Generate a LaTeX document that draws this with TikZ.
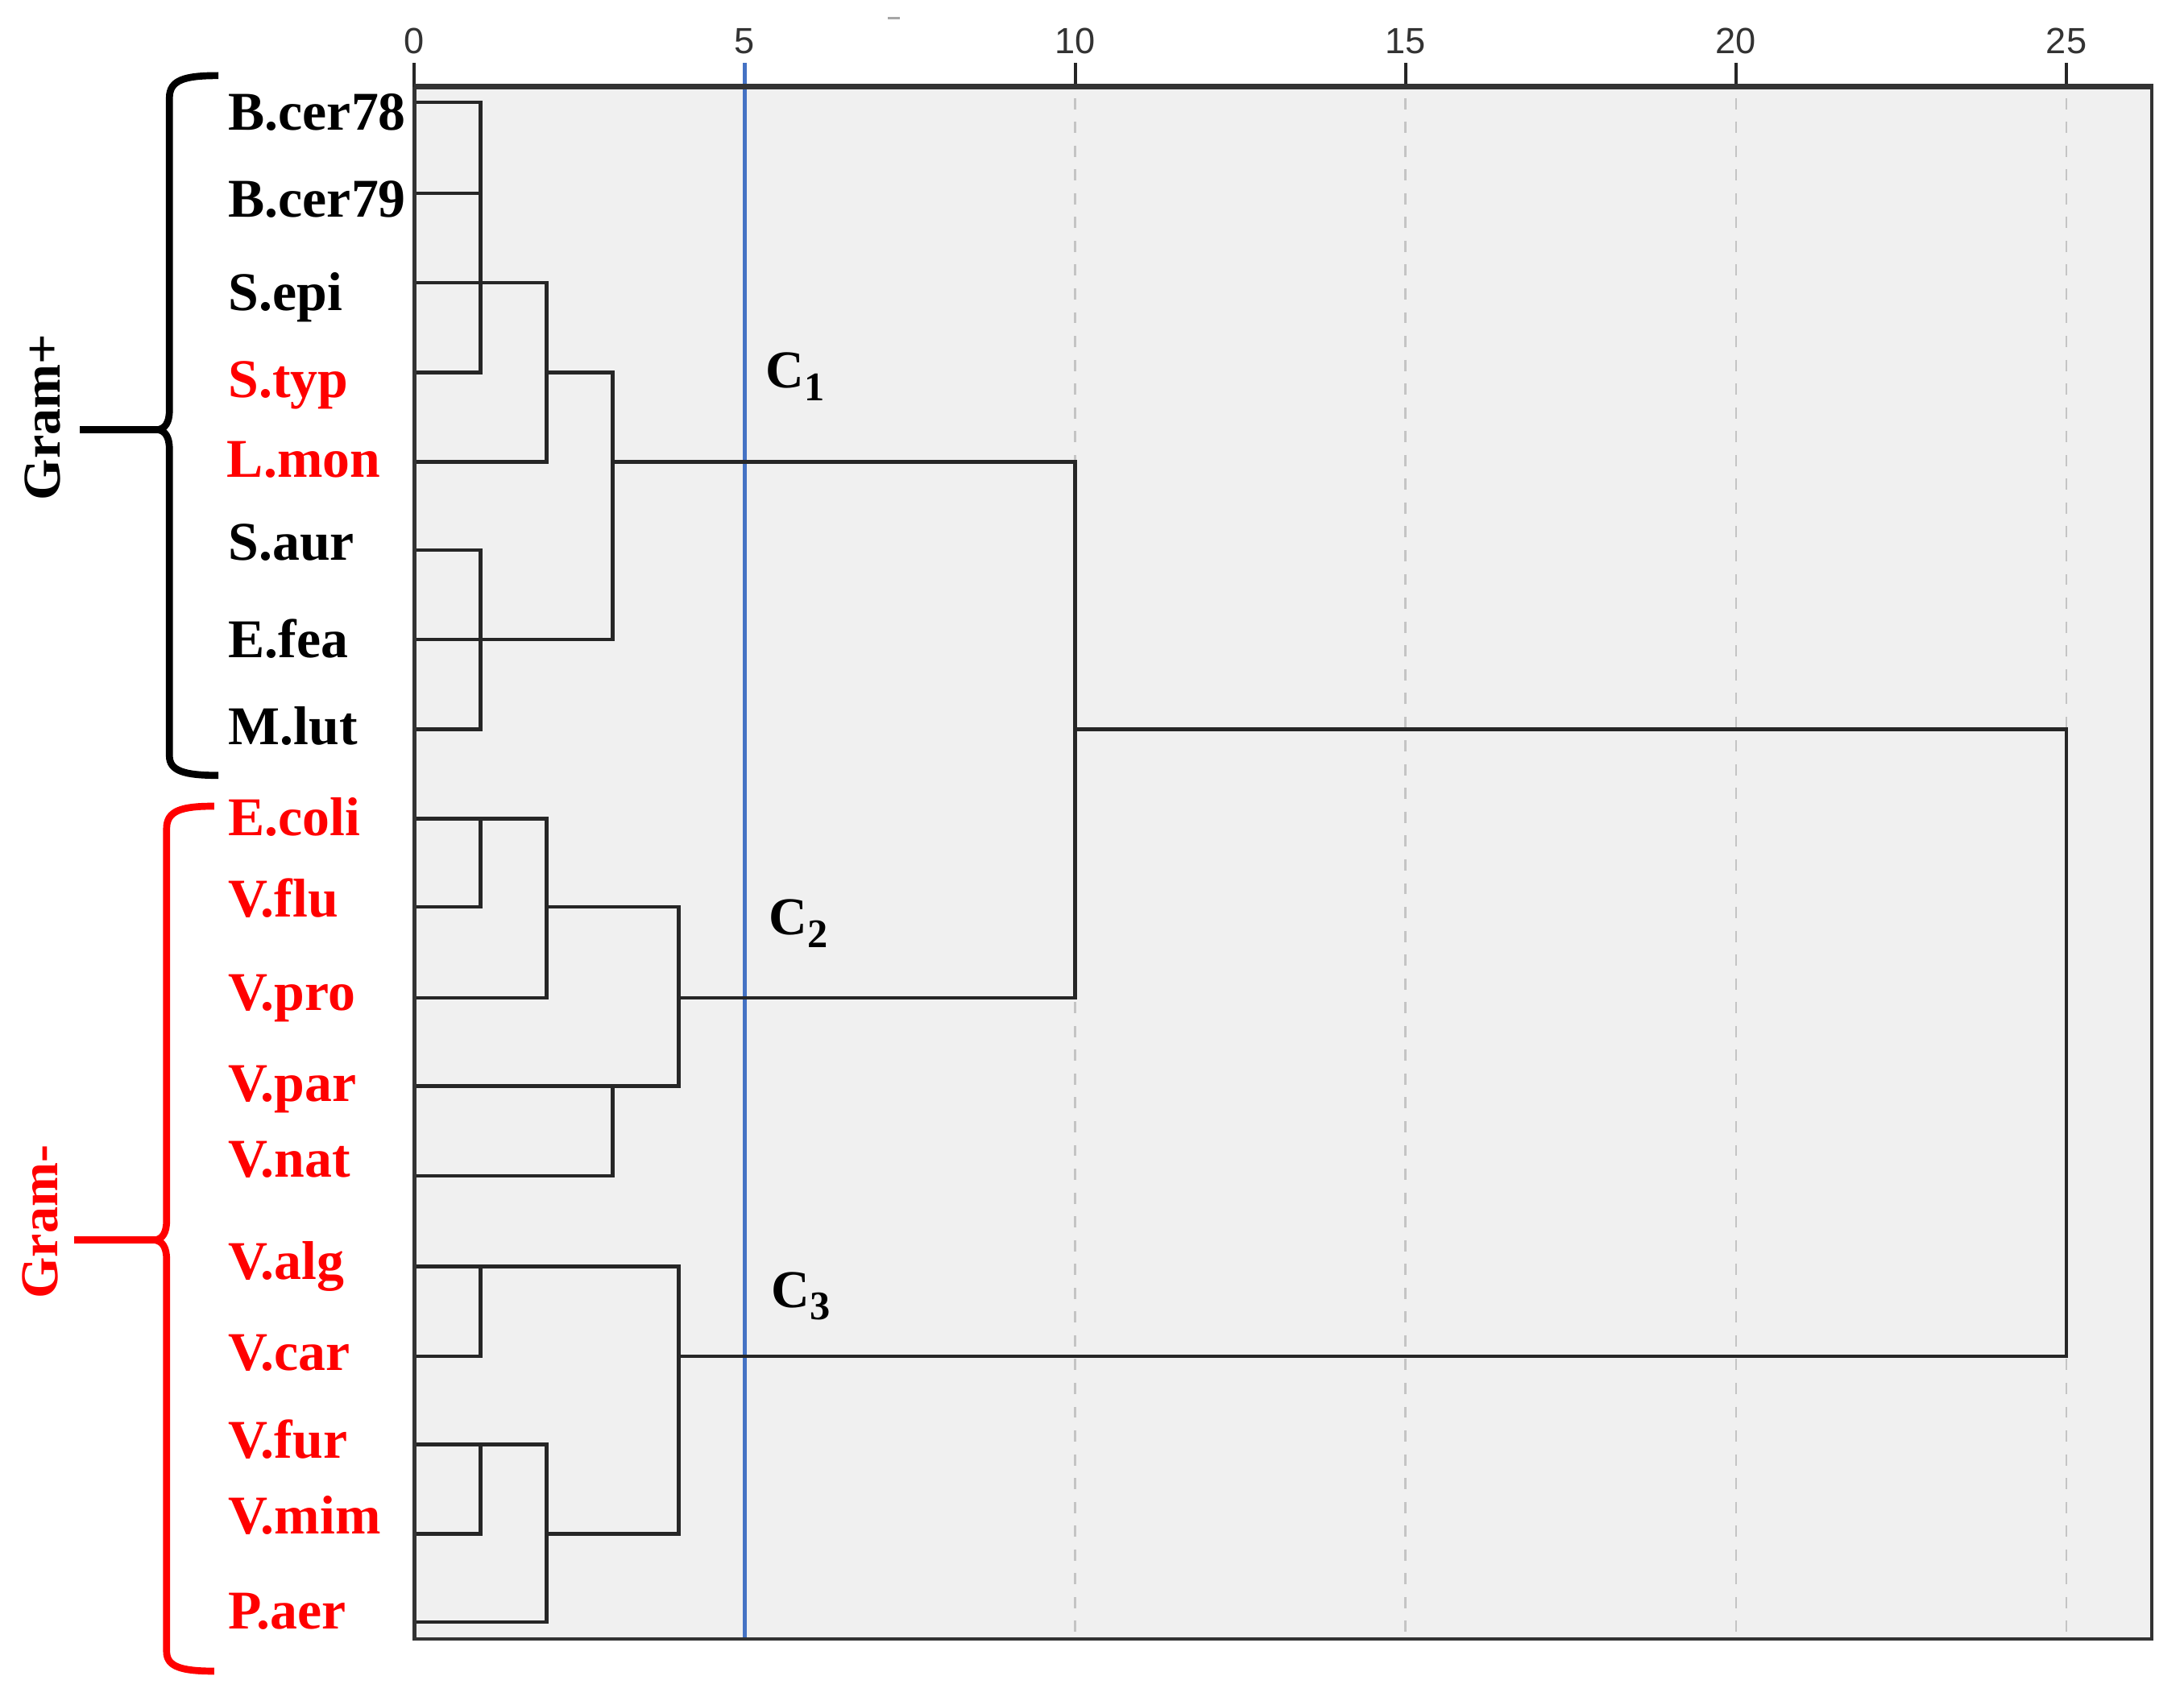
\documentclass[tikz,border=0pt]{standalone}
\usepackage{graphicx}
\usepackage{fontspec}
\setmainfont{Liberation Serif}
\newfontfamily\tickfont{Liberation Sans}
\definecolor{dgray}{HTML}{262626}
\definecolor{fgray}{HTML}{333333}
\definecolor{tickc}{HTML}{333333}
\definecolor{plotbg}{HTML}{F0F0F0}
\definecolor{gridc}{HTML}{C4C4C4}
\definecolor{cutblue}{HTML}{4472C4}
\definecolor{gred}{HTML}{FF0000}
\newcommand\csub[1]{\raisebox{-9pt}{\fontsize{29}{29}\selectfont #1}}
\begin{document}
\begin{tikzpicture}[x=1pt,y=-1pt,
  leaf/.style={anchor=base west, inner sep=0pt, font=\fontsize{39}{44}\selectfont\bfseries},
  gram/.style={rotate=90, anchor=base, inner sep=0pt, font=\fontsize{38}{42}\selectfont\bfseries},
  clab/.style={anchor=base west, inner sep=0pt, font=\fontsize{38}{42}\selectfont\bfseries},
  ticklab/.style={anchor=base, inner sep=0pt, text=tickc, font=\tickfont\fontsize{26}{28}\selectfont},
  den/.style={draw=dgray, line width=2.6pt, line cap=rect},
  gridl/.style={draw=gridc, line width=1.5pt, dash pattern=on 8pt off 9pt},
  brace/.style={line width=5pt, line cap=butt, line join=round},
  tickl/.style={draw=dgray, line width=2.4pt}
]
\useasboundingbox (0,0) rectangle (1560,1218);
% plot area
\fill[plotbg] (296,62) rectangle (1537,1171);
\begin{scope}[xshift=296pt, x=47.2pt]
  \foreach \g in {10,15,20,25} {\draw[gridl] (\g,70) -- (\g,1170);}
  % axis ticks
  \foreach \g in {0,10,15,20,25} {\draw[tickl] (\g,45) -- (\g,62);}
  \node[ticklab] (t0) at (0,38) {0};
  \node[ticklab] (t5) at (5,38) {5};
  \node[ticklab] (t10) at (10,38) {10};
  \node[ticklab] (t15) at (15,38) {15};
  \node[ticklab] (t20) at (20,38) {20};
  \node[ticklab] (t25) at (25,38) {25};
  % cut line
  \draw[cutblue, line width=3pt] (5,45) -- (5,1171);
  % Gram+ group (C1)
  \draw[den] (0,73) -| (1,266);
  \draw[den] (0,138) -- (1,138);
  \draw[den] (0,266) -- (1,266);
  \draw[den] (0,202) -| (2,330);
  \draw[den] (0,330) -- (2,330);
  \draw[den] (2,266) -| (3,457);
  \draw[den] (0,393) -| (1,521);
  \draw[den] (0,457) -- (3,457);
  \draw[den] (0,521) -- (1,521);
  \draw[den] (3,330) -| (10,713);
  % C2 group
  \draw[den] (0,585) -| (2,713);
  \draw[den] (1,585) -- (1,648);
  \draw[den] (0,648) -- (1,648);
  \draw[den] (0,713) -- (2,713);
  \draw[den] (2,648) -| (4,776);
  \draw[den] (0,776) -- (4,776);
  \draw[den] (3,776) -- (3,840);
  \draw[den] (0,840) -- (3,840);
  \draw[den] (4,713) -- (10,713);
  % C3 group
  \draw[den] (0,905) -| (4,1096);
  \draw[den] (1,905) -- (1,969);
  \draw[den] (0,969) -- (1,969);
  \draw[den] (0,1032) -| (2,1159);
  \draw[den] (1,1032) -- (1,1096);
  \draw[den] (0,1096) -- (1,1096);
  \draw[den] (0,1159) -- (2,1159);
  \draw[den] (2,1096) -- (4,1096);
  % top-level joins
  \draw[den] (10,521) -| (25,969) -- (4,969);
\end{scope}
% frame
\draw[fgray, line width=2.5pt] (296,62) -- (296,1171) -- (1537,1171) -- (1537,62);
\draw[fgray, line width=3.8pt] (296,62) -- (1538,62);
\draw[gray!70, line width=1.5pt] (634,13) -- (643,13);
% cluster labels
\node[clab] (c1) at (547,277) {C\csub{1}};
\node[clab] (c2) at (549,668) {C\csub{2}};
\node[clab] (c3) at (551,934) {C\csub{3}};
% leaf labels
\node[leaf] (bcer78) at (163,93) {B.cer78};
\node[leaf] (bcer79) at (163,155) {B.cer79};
\node[leaf] (sepi) at (163,222) {S.epi};
\node[leaf, text=gred] (styp) at (163,284) {S.typ};
\node[leaf, text=gred] (lmon) at (162,341) {L.mon};
\node[leaf] (saur) at (163,400) {S.aur};
\node[leaf] (efea) at (163,470) {E.fea};
\node[leaf] (mlut) at (163,532) {M.lut};
\node[leaf, text=gred] (ecoli) at (163,597) {E.coli};
\node[leaf, text=gred] (vflu) at (163,655) {V.flu};
\node[leaf, text=gred] (vpro) at (163,722) {V.pro};
\node[leaf, text=gred] (vpar) at (163,787) {V.par};
\node[leaf, text=gred] (vnat) at (163,841) {V.nat};
\node[leaf, text=gred] (valg) at (163,914) {V.alg};
\node[leaf, text=gred] (vcar) at (163,979) {V.car};
\node[leaf, text=gred] (vfur) at (163,1042) {V.fur};
\node[leaf, text=gred] (vmim) at (163,1096) {V.mim};
\node[leaf, text=gred] (paer) at (163,1164) {P.aer};
% braces
\draw[brace, black] (156,54) .. controls (132,54) and (121,57) .. (121,70) -- (121,293) .. controls (121,302) and (118,306) .. (113,307) .. controls (118,308) and (121,312) .. (121,321) -- (121,540) .. controls (121,551) and (132,554) .. (156,554);
\draw[brace, black] (115,307) -- (57,307);
\draw[brace, gred] (153,576) .. controls (130,576) and (119,579) .. (119,592) -- (119,872) .. controls (119,881) and (116,885) .. (111,886) .. controls (116,887) and (119,891) .. (119,900) -- (119,1180) .. controls (119,1191) and (130,1194) .. (153,1194);
\draw[brace, gred] (113,886) -- (53,886);
% group labels
\node[gram] (gpos) at (43,298) {Gram+};
\node[gram, text=gred] (gneg) at (41,873) {Gram-};
\end{tikzpicture}
\end{document}
